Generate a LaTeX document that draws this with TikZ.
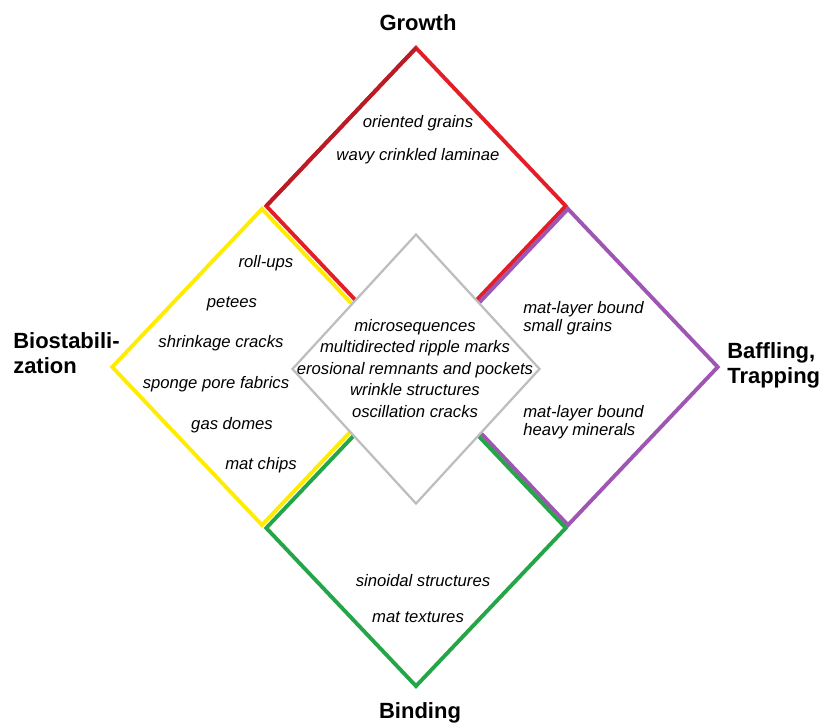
\documentclass[tikz,border=0pt]{standalone}
\usepackage{fontspec}
\setmainfont{Liberation Sans}
\usepackage{tikz}
\usetikzlibrary{shapes.geometric,positioning}
\definecolor{growthred}{RGB}{228,30,38}
\definecolor{growthdark}{RGB}{185,28,36}
\definecolor{stabyellow}{RGB}{255,236,0}
\definecolor{trappurple}{RGB}{158,86,178}
\definecolor{bindgreen}{RGB}{36,166,72}
\definecolor{coregray}{RGB}{190,190,190}

\begin{document}
\begin{tikzpicture}[x=0.75pt,y=-0.75pt]
% STYLES
\tikzset{
    field/.style={diamond, draw, inner sep=0pt, outer sep=0pt,
    minimum width=224.6pt, minimum height=237.1pt, line width=2.9pt},
    core/.style={diamond, draw=coregray, fill=white, inner sep=0pt,
    minimum width=186pt, minimum height=202.5pt, line width=1.7pt},
    item/.style={font=\itshape\fontsize{12.5}{16.1}\selectfont, inner sep=0pt},
    pair/.style={item, align=left, anchor=north west, font=\itshape\fontsize{12.5}{13.6}\selectfont},
    process/.style={font=\bfseries\fontsize{16.5}{18.8}\selectfont, inner sep=0pt}
}
\useasboundingbox (0,0) rectangle (822,722);

% the four process fields and the core
\node [field, draw=growthred] (Growth) at (416,206) {};
\draw [growthdark, line width=2.9pt] (Growth.west) -- (Growth.north);
\node [field, draw=stabyellow] (Stab) at (262,367) {};
\node [field, draw=trappurple] (Trap) at (568,367) {};
\node [field, draw=bindgreen] (Bind) at (416,528) {};
\node [core] (Core) at (416,369) {};

% process names
\node [process, anchor=base] (GrowthLbl) at (418,30) {Growth};
\node [process, align=left, anchor=north west] (StabLbl) at (13,332) {Biostabili-\\zation};
\node [process, align=left, anchor=north west] (TrapLbl) at (727,342) {Baffling,\\Trapping};
\node [process, anchor=base] (BindLbl) at (420,718) {Binding};

% growth
\node [item, anchor=base] (g1) at (418,127) {oriented grains};
\node [item, anchor=base] (g2) at (418,160) {wavy crinkled laminae};

% biostabilization
\node [item, anchor=base] (s1) at (266,267) {roll-ups};
\node [item, anchor=base] (s2) at (232,307) {petees};
\node [item, anchor=base] (s3) at (221,347) {shrinkage cracks};
\node [item, anchor=base] (s4) at (216,388) {sponge pore fabrics};
\node [item, anchor=base] (s5) at (232,429) {gas domes};
\node [item, anchor=base] (s6) at (261,469) {mat chips};

% baffling, trapping
\node [pair] (t1) at (523,301) {mat-layer bound\\small grains};
\node [pair] (t2) at (523,405) {mat-layer bound\\heavy minerals};

% binding
\node [item, anchor=base] (b1) at (423,586) {sinoidal structures};
\node [item, anchor=base] (b2) at (418,622) {mat textures};

% core
\node [item, align=center, anchor=north] (c1) at (415,319)
  {microsequences\\multidirected ripple marks\\erosional remnants and pockets\\wrinkle structures\\oscillation cracks};
\end{tikzpicture}
\end{document}
